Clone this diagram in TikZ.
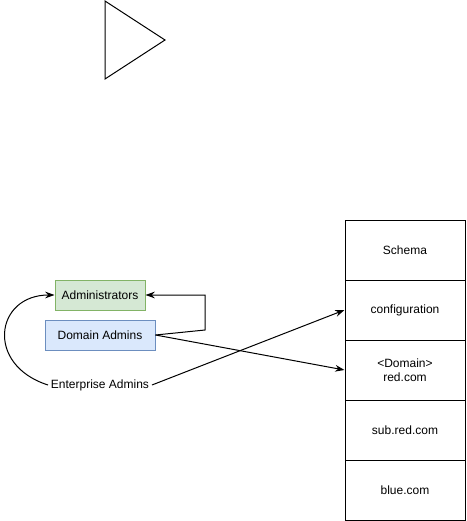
\documentclass[tikz,border=0pt]{standalone}
\usepackage{fontspec}
\setmainfont{Liberation Sans}
\usetikzlibrary{arrows.meta}
\definecolor{gfill}{HTML}{D5E8D4}
\definecolor{gline}{HTML}{82B366}
\definecolor{bfill}{HTML}{DAE8FC}
\definecolor{bline}{HTML}{6C8EBF}
\begin{document}
\begin{tikzpicture}[x=0.75pt,y=-0.75pt,
  every node/.style={font=\fontsize{9}{10.5}\selectfont},
  cell/.style={draw, line width=0.75pt, minimum width=90pt, minimum height=45pt, inner sep=0pt, align=center},
  grp/.style={draw, line width=0.75pt, inner sep=0pt},
  conn/.style={draw, line width=0.75pt, -{Stealth[length=7pt,width=5pt]}}]
\useasboundingbox (0,0) rectangle (467,521);
% triangle
\draw[line width=0.75pt] (105,1) -- (165,40) -- (105,79) -- cycle;
% stack
\node[cell] (schema) at (405,250) {Schema};
\node[cell] (conf) at (405,310) {configuration};
\node[cell] (dom) at (405,370) {<Domain>\\red.com};
\node[cell] (sub) at (405,430) {sub.red.com};
\node[cell] (blue) at (405,490) {blue.com};
% groups
\node[grp, fill=gfill, draw=gline, minimum width=67.5pt, minimum height=22.5pt] (adm) at (100,295) {Administrators};
\node[grp, fill=bfill, draw=bline, minimum width=82.5pt, minimum height=22.5pt] (da) at (100,335) {Domain Admins};
\node[inner sep=2pt] (ea) at (100,385) {Enterprise Admins};
\coordinate (c1) at (205,330);
\coordinate (c2) at (205,295);
\draw[conn] (da.east) -- (c1) -- (c2) -- (adm.east);
\draw[conn] (da.east) -- (dom.west);
\draw[conn] (ea.east) -- (conf.west);
\draw[conn] (ea.west) .. controls (-15,365) and (-5,295) .. (adm.west);
\end{tikzpicture}
\end{document}
